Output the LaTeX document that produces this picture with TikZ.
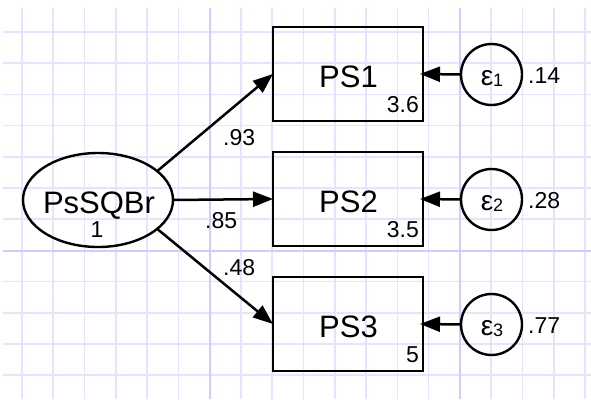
\documentclass[tikz,border=0pt]{standalone}
\usepackage{fontspec}
\setmainfont{Liberation Sans}
\usetikzlibrary{arrows.meta,shapes.geometric}
\definecolor{gridlight}{RGB}{228,228,255}
\definecolor{griddark}{RGB}{205,205,255}
\begin{document}
\begin{tikzpicture}[x=1pt,y=-1pt,
  gl/.style={draw=gridlight,line width=1.6pt},
  gd/.style={draw=griddark,line width=1.6pt},
  obsbox/.style={draw,line width=2.8pt,minimum width=150pt,minimum height=94pt,inner sep=0pt,outer sep=0pt},
  latent/.style={draw,ellipse,line width=2.4pt,minimum width=150pt,minimum height=94pt,inner sep=0pt,outer sep=0pt},
  errc/.style={draw,circle,line width=2.4pt,minimum size=61pt,inner sep=0pt,outer sep=0pt},
  arr/.style={line width=2.5pt,-{Triangle[length=20pt,width=15pt]}},
  big/.style={inner sep=0pt,font=\fontsize{31}{31}\selectfont},
  small/.style={inner sep=0pt,font=\fontsize{23}{23}\selectfont},
  epsf/.style={inner sep=0pt,font=\fontsize{28}{28}\selectfont}]
\fill[white] (0,0) rectangle (591,399);
\useasboundingbox (0,0) rectangle (591,399);
% grid
\foreach \i in {0,...,18} {
  \pgfmathsetmacro\gx{22+31.28*\i}
  \draw[gl] (\gx,8) -- (\gx,399);
}
\foreach \j in {0,...,11} {
  \pgfmathsetmacro\gy{32+31.2*\j}
  \draw[gl] (3,\gy) -- (591,\gy);
}
\draw[gd] (209.7,8) -- (209.7,399);
\draw[gd] (459.9,8) -- (459.9,399);
\draw[gd] (3,251) -- (591,251);
% shapes
\node[latent] (ps) at (98,200) {};
\node[obsbox] (b1) at (348,74) {};
\node[obsbox] (b2) at (348,199) {};
\node[obsbox] (b3) at (348,324) {};
\node[errc] (e1) at (491.5,74.5) {};
\node[errc] (e2) at (491.5,199.5) {};
\node[errc] (e3) at (491.5,324.5) {};
% connectors
\draw[arr] (ps.26) -- (b1.west);
\draw[arr] (ps.east) -- (b2.west);
\draw[arr] (ps.-26) -- (b3.west);
\draw[arr,shorten >=-3pt] (e1.west) -- (b1.east);
\draw[arr,shorten >=-3pt] (e2.west) -- (b2.east);
\draw[arr,shorten >=-3pt] (e3.west) -- (b3.east);
% texts
\node[big,anchor=base] (tps) at (99,213) {PsSQBr};
\node[small,anchor=base] (tone) at (97,237) {1};
\node[big,anchor=base] (t1) at (348.5,87) {PS1};
\node[big,anchor=base] (t2) at (348.5,212) {PS2};
\node[big,anchor=base] (t3) at (348.5,337) {PS3};
\node[small,anchor=base east] (m1) at (419,112) {3.6};
\node[small,anchor=base east] (m2) at (419,237) {3.5};
\node[small,anchor=base east] (m3) at (419,362) {5};
\node[epsf,anchor=base] (eps1) at (492,85) {ε\raisebox{-1.5pt}{\fontsize{18}{18}\selectfont 1}};
\node[epsf,anchor=base] (eps2) at (492,210) {ε\raisebox{-1.5pt}{\fontsize{18}{18}\selectfont 2}};
\node[epsf,anchor=base] (eps3) at (492,335) {ε\raisebox{-1.5pt}{\fontsize{18}{18}\selectfont 3}};
\node[small,anchor=base west] (v1) at (528,83.5) {.14};
\node[small,anchor=base west] (v2) at (528,208.5) {.28};
\node[small,anchor=base west] (v3) at (528,333.5) {.77};
\node[small,anchor=base west] (l1) at (223,145) {.93};
\node[small,anchor=base west] (l2) at (205,228) {.85};
\node[small,anchor=base west] (l3) at (223,275) {.48};
\end{tikzpicture}
\end{document}
